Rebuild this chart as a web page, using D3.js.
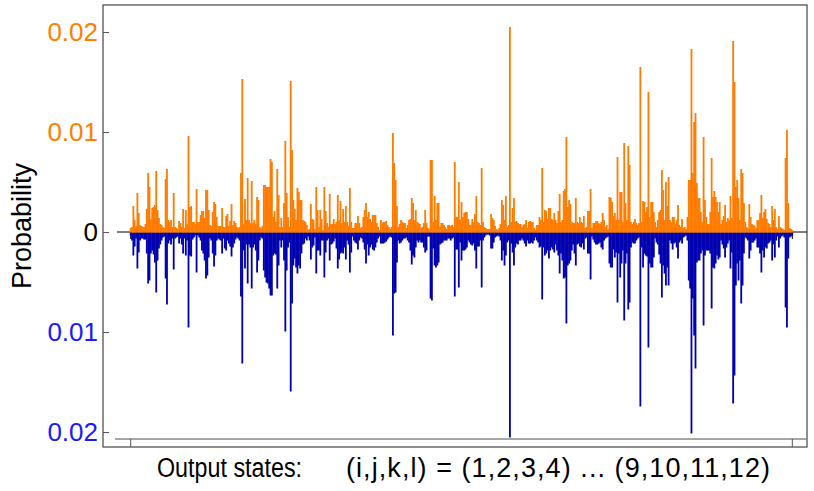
<!DOCTYPE html>
<html>
<head>
<meta charset="utf-8">
<script src="https://cdn.jsdelivr.net/npm/d3@7"></script>
<style>
  body { margin: 0; background: #fff; }
  svg { display: block; font-family: "Liberation Sans", Arial, sans-serif; }
</style>
</head>
<body>
<script>
// probabilities, in units of 1e-4, one value per output state (i,j,k,l)
const orangeE4 = [
  4,5,26,12,6,39,19,7,6,5,5,8,23,59,45,13,24,25,27,61,22,14,8,7,5,4,53,63,12,10,12,5,39,5,4,3,11,9,5,23,4,22,8,96,25,26,10,
  10,8,43,10,10,17,21,21,14,42,42,22,7,6,20,30,28,15,6,6,6,24,5,5,16,18,6,11,28,7,11,9,5,4,5,59,153,8,33,12,54,12,9,51,9,12,8,35,32,
  5,4,6,47,47,45,45,45,73,70,15,21,10,63,37,5,14,5,29,91,39,15,5,151,82,32,23,12,44,40,32,32,12,11,10,7,2,3,28,13,12,3,45,22,5,22,13,2,45,
  21,9,5,38,8,8,13,8,10,37,12,31,9,23,10,26,10,6,44,10,4,4,9,9,16,9,4,5,15,22,29,15,20,13,10,17,17,17,9,5,2,12,9,10,10,11,7,5,3,
  5,99,69,52,26,5,8,12,10,9,9,4,7,12,13,34,29,12,22,10,9,8,4,5,9,22,9,4,3,72,72,10,36,12,29,29,5,9,9,7,5,3,7,7,6,7,5,70,15,
  15,50,12,30,15,19,20,20,13,7,7,13,10,18,36,10,9,7,64,10,5,4,3,3,3,18,14,12,6,3,2,4,8,32,27,12,36,5,7,205,10,24,34,10,11,9,8,8,5,
  7,8,12,4,10,11,10,10,4,2,7,7,15,12,64,10,22,21,13,24,24,13,12,19,12,9,21,38,10,12,41,43,95,25,32,28,10,9,9,34,10,9,15,10,9,16,4,5,21,
  21,43,4,9,9,11,11,9,8,10,19,12,5,7,3,35,34,30,16,19,12,75,12,40,40,10,89,29,12,86,67,10,8,10,13,9,7,9,165,10,31,30,20,25,140,15,30,30,20,
  10,5,12,20,22,62,42,12,50,26,55,12,10,15,15,8,12,27,7,5,13,4,5,3,15,52,52,183,59,110,119,49,34,34,20,10,95,32,15,8,8,20,74,35,41,35,30,20,30,
  8,12,16,27,10,14,12,36,14,191,150,45,52,34,12,63,59,29,10,5,4,28,15,8,7,6,4,12,12,19,37,14,20,23,13,9,8,5,26,12,23,5,3,16,5,4,3,2,74,102,29,4,3,2
];
const blueE4 = [
  3,8,23,14,6,36,20,8,6,6,7,7,21,51,48,21,18,22,30,60,28,16,12,8,5,4,46,72,11,8,12,6,37,6,5,4,11,6,12,21,6,23,8,95,23,24,7,
  5,3,40,3,5,8,18,21,28,46,43,25,6,8,21,34,23,8,6,7,8,21,6,16,18,8,11,14,24,15,11,7,5,6,8,64,131,18,36,12,51,12,15,56,15,12,18,40,28,
  8,5,6,38,45,50,51,56,63,63,23,21,22,56,33,8,15,8,28,99,38,15,10,159,71,33,26,35,41,33,36,21,12,11,6,8,4,8,27,15,13,5,41,18,18,23,8,8,45,
  20,8,6,28,12,11,9,6,16,36,27,21,20,21,15,27,8,12,40,20,4,8,10,11,17,8,5,6,10,17,31,12,23,15,12,17,18,15,10,6,4,11,11,11,10,9,7,5,4,
  5,103,61,60,30,8,11,10,8,6,6,5,8,10,18,32,23,25,15,8,10,8,10,10,15,20,18,4,4,66,68,16,33,35,33,30,12,11,10,8,8,8,6,6,8,6,5,64,17,
  17,55,10,28,18,18,17,15,8,10,12,13,11,18,36,14,14,8,55,8,5,3,2,2,3,16,16,10,5,4,3,4,8,28,18,33,23,10,8,205,11,20,33,15,11,12,8,8,6,
  8,11,14,8,11,11,10,11,8,5,8,10,15,14,67,15,23,21,18,26,18,15,17,20,12,18,23,41,21,28,46,45,91,33,31,28,18,12,21,33,12,11,14,15,11,17,6,5,21,
  21,47,4,7,10,12,12,11,10,15,17,8,6,5,4,31,35,35,17,25,20,70,21,45,31,18,88,31,21,77,70,15,10,11,11,8,6,5,174,15,35,21,23,24,115,31,35,35,25,
  6,10,12,22,31,65,33,41,53,35,53,8,11,17,11,10,15,26,10,8,11,5,4,3,8,48,56,201,66,103,136,30,28,28,21,18,93,23,18,18,18,21,76,35,36,31,23,27,25,
  8,12,16,25,15,11,8,36,20,171,143,53,31,48,28,71,53,21,5,6,8,26,18,10,10,8,6,15,15,21,40,18,25,15,16,11,10,8,28,12,25,8,4,15,6,4,3,5,75,95,26,5,4,3
];
const yTicks = [0.02, 0.01, 0, -0.01, -0.02];
const yTickLabels = ['0.02', '0.01', '0', '0.01', '0.02'];
const xLabelLeft = 'Output states:';
const xLabelRight = '(i,j,k,l) = (1,2,3,4) ... (9,10,11,12)';

const orange = '#ff7c00', blue = '#0000b0';
const labelColor = v => v > 0 ? '#ff8000' : (v < 0 ? '#1a1aff' : '#000');

let width = 814, height = 491;
const frame = {left: 103, top: 5, right: 807, bottom: 447};

const svg = d3.select('body')
    .append('svg')
    .attr('width', width)
    .attr('height', height)

const n = orangeE4.length;
const x = d3.scaleBand()
    .domain(d3.range(n))
    .range([130, 793])
    .paddingInner(0)
const y = d3.scaleLinear()
    .domain([-0.02, 0.02])
    .range([432, 32])
// bars drawn a little wider than their band, like the source's thick strokes
const barW = x.bandwidth() * 1.35;
const barX = i => x(i) + x.bandwidth() / 2 - barW / 2;

// frame
svg.append('rect')
    .attr('x', frame.left).attr('y', frame.top)
    .attr('width', frame.right - frame.left)
    .attr('height', frame.bottom - frame.top)
    .attr('fill', 'none')
    .attr('stroke', '#444')
    .attr('stroke-width', 1.2)

// lower gray axis with end ticks
svg.append('line')
    .attr('x1', 115).attr('x2', frame.right)
    .attr('y1', 439).attr('y2', 439)
    .attr('stroke', '#888').attr('stroke-width', 1.5)
const xAxis = d3.axisBottom(x).tickValues([0, n - 1]).tickFormat('').tickSize(8).tickSizeOuter(0);
svg.append('g')
    .attr('transform', 'translate(0,439)')
    .call(xAxis)
    .call(g => g.select('.domain').remove())
    .call(g => g.selectAll('line').attr('stroke', '#555'))

// zero line
svg.append('line')
    .attr('x1', 117).attr('x2', frame.right)
    .attr('y1', y(0)).attr('y2', y(0))
    .attr('stroke', '#000').attr('stroke-width', 1)
svg.append('g')
    .attr('transform', 'translate(0,' + y(0) + ')')
    .call(d3.axisBottom(x).tickValues([0, n - 1]).tickFormat('').tickSize(7).tickSizeOuter(0))
    .call(g => g.select('.domain').remove())

// bars
svg.append('g').selectAll('rect')
    .data(blueE4)
    .enter()
    .append('rect')
    .attr('x', (d, i) => barX(i))
    .attr('width', barW)
    .attr('y', y(0) + 0.5)
    .attr('height', d => y(-d / 1e4) - y(0))
    .attr('fill', blue)

svg.append('g').selectAll('rect')
    .data(orangeE4)
    .enter()
    .append('rect')
    .attr('x', (d, i) => barX(i))
    .attr('width', barW)
    .attr('y', d => y(d / 1e4))
    .attr('height', d => y(0) - y(d / 1e4) + 0.5)
    .attr('fill', orange)

// y axis, ticks pointing inward
const yAxis = d3.axisLeft(y)
    .tickValues(yTicks)
    .tickSize(-6)
    .tickPadding(5)
    .tickFormat((d, i) => yTickLabels[i]);
svg.append('g')
    .attr('transform', 'translate(' + frame.left + ',0)')
    .call(yAxis)
    .call(g => g.select('.domain').remove())
    .call(g => g.selectAll('line').attr('stroke', '#555'))
    .call(g => g.selectAll('text')
        .attr('font-size', 26)
        .attr('font-family', '"Liberation Sans", Arial, sans-serif')
        .attr('fill', d => labelColor(d)))

// axis titles
svg.append('text')
    .attr('transform', 'translate(31,226) rotate(-90)')
    .attr('text-anchor', 'middle')
    .attr('font-size', 27)
    .text('Probability')

svg.append('text')
    .attr('x', 157).attr('y', 477)
    .attr('font-size', 27)
    .attr('textLength', 145)
    .attr('lengthAdjust', 'spacingAndGlyphs')
    .text(xLabelLeft)
svg.append('text')
    .attr('x', 346).attr('y', 477)
    .attr('font-size', 27)
    .attr('textLength', 424)
    .attr('lengthAdjust', 'spacing')
    .text(xLabelRight)
</script>
</body>
</html>
